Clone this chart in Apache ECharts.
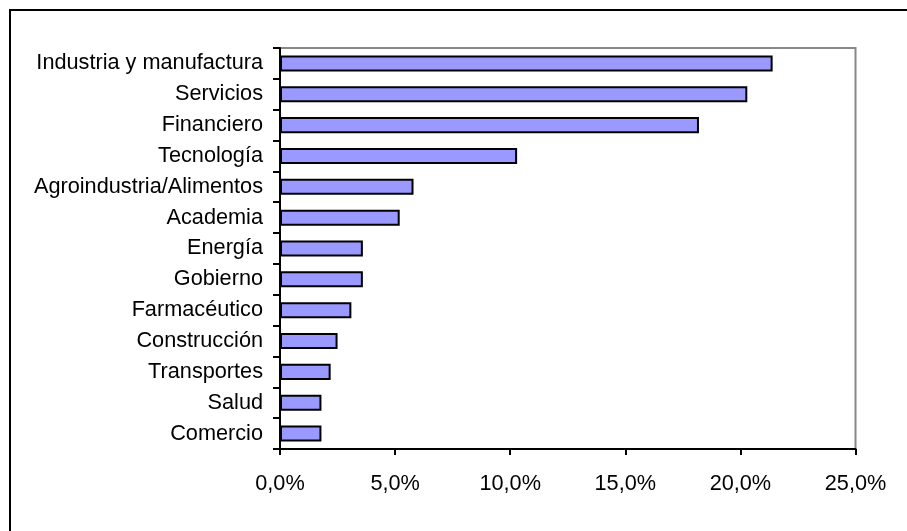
<!DOCTYPE html>
<html>
<head>
<meta charset="utf-8">
<script src="https://cdn.jsdelivr.net/npm/echarts@6/dist/echarts.min.js"></script>
<style>
html,body{margin:0;padding:0;background:#fff;}
#chart{width:907px;height:531px;}
</style>
</head>
<body>
<div id="chart"></div>
<script>
const categories = ["Industria y manufactura","Servicios","Financiero","Tecnología","Agroindustria/Alimentos","Academia","Energía","Gobierno","Farmacéutico","Construcción","Transportes","Salud","Comercio"];
const values = [21.4, 20.3, 18.2, 10.3, 5.8, 5.2, 3.6, 3.6, 3.1, 2.5, 2.2, 1.8, 1.8];
const xTicks = [0, 5, 10, 15, 20, 25];

const chart = echarts.init(document.getElementById('chart'), null, {renderer: 'canvas'});
const font = "'Liberation Sans', Arial, sans-serif";
chart.setOption({
  animation: false,
  backgroundColor: '#fff',
  graphic: [{
    type: 'rect',
    shape: {x: 10, y: 10, width: 920, height: 540},
    style: {fill: 'none', stroke: '#000', lineWidth: 2},
    z: 100
  }],
  grid: {
    left: 280, top: 48, right: 51.5, bottom: 82,
    show: true, borderColor: '#888', borderWidth: 2, backgroundColor: '#fff'
  },
  xAxis: {
    type: 'value',
    min: xTicks[0], max: xTicks[xTicks.length - 1], interval: 5,
    splitLine: {show: false},
    axisLine: {show: true, lineStyle: {color: '#000', width: 2}},
    axisTick: {show: true, length: 6, lineStyle: {color: '#000', width: 2}},
    axisLabel: {
      margin: 24, color: '#000', fontSize: 21.7, fontFamily: font,
      formatter: v => v.toFixed(1).replace('.', ',') + '%'
    }
  },
  yAxis: {
    type: 'category',
    data: categories,
    inverse: true,
    axisLine: {show: true, lineStyle: {color: '#000', width: 2}},
    axisTick: {show: true, length: 7, alignWithLabel: false, lineStyle: {color: '#000', width: 2}},
    axisLabel: {margin: 17, color: '#000', fontSize: 21.7, fontFamily: font, interval: 0}
  },
  series: [{
    type: 'bar',
    data: values,
    barCategoryGap: '48%',
    itemStyle: {color: '#9999FF', borderColor: '#000', borderWidth: 2}
  }]
});
</script>
</body>
</html>
